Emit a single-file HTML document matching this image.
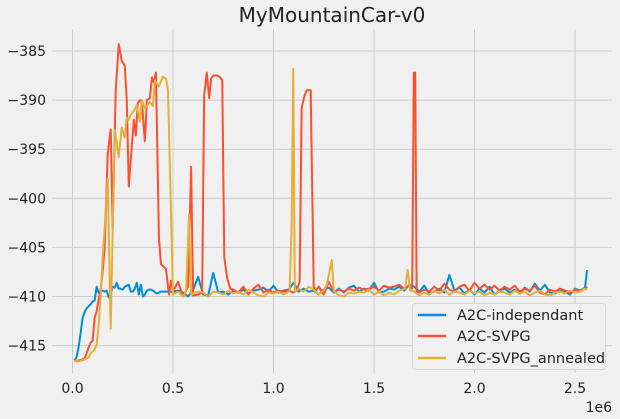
<!DOCTYPE html>
<html><head><meta charset="utf-8"><style>
html,body{margin:0;padding:0;background:#f0f0f0;}
svg{display:block;font-family:"DejaVu Sans","Liberation Sans",sans-serif;}
</style></head><body>
<svg id="chart" width="620" height="419" viewBox="0 0 620 419" xmlns="http://www.w3.org/2000/svg">
<rect width="620" height="419" fill="#f0f0f0"/>
<text x="332" y="22" text-anchor="middle" font-size="20" fill="#222">MyMountainCar-v0</text>
<g id="grid"></g>
<g id="ticks"></g>
<g id="series"></g>
<text x="612" y="412" text-anchor="end" font-size="14" fill="#222">1e6</text>
<g>
<rect x="412.5" y="303.5" width="193" height="66" rx="3" fill="#f0f0f0" stroke="#d6d6d6"/>
<line x1="418" y1="315" x2="446" y2="315" stroke="#008fd5" stroke-width="2.5"/>
<text x="457" y="320" font-size="14.5" fill="#222">A2C-independant</text>
<line x1="418" y1="336" x2="446" y2="336" stroke="#fc4f30" stroke-width="2.5"/>
<text x="457" y="341" font-size="14.5" fill="#222">A2C-SVPG</text>
<line x1="418" y1="358" x2="446" y2="358" stroke="#e5ae38" stroke-width="2.5"/>
<text x="457" y="363" font-size="14.5" fill="#222">A2C-SVPG_annealed</text>
</g>
</svg>
<script>
const xTicks=[0,0.5,1.0,1.5,2.0,2.5];
const xTickLabels=["0.0","0.5","1.0","1.5","2.0","2.5"];
const yTicks=[-385,-390,-395,-400,-405,-410,-415];
const yTickLabels=["\u2212385","\u2212390","\u2212395","\u2212400","\u2212405","\u2212410","\u2212415"];

const blueEarlyX=[0.01,0.02,0.03,0.04,0.05,0.06,0.07,0.08,0.09,0.10,0.11,0.12,0.13,0.14,0.15,0.16,0.17,0.18,0.19,0.20,0.21,0.22,0.23,0.24,0.25,0.26,0.27,0.28,0.29,0.30,0.31,0.32,0.33,0.34,0.35,0.36,0.37,0.38,0.39,0.40,0.42,0.44,2.56];
const blueEarlyY=[-416.5,-416.2,-415.2,-413.8,-412.2,-411.6,-411.2,-411,-410.8,-410.5,-410.4,-409.0,-409.6,-409.5,-409.4,-409.5,-409.4,-410.1,-409.8,-409.0,-409.1,-408.6,-409.2,-409.2,-409.3,-409.0,-408.9,-408.8,-409.5,-409.5,-409.2,-408.6,-409.8,-408.8,-410,-409.8,-409.4,-409.3,-409.3,-409.4,-409.7,-409.5,-407.3];
const blueGridY=[-409.5,-409.4,-409.6,-410.0,-409.3,-408.0,-409.8,-409.9,-407.6,-409.6,-409.5,-409.8,-409.4,-409.6,-409.3,-409.7,-409.4,-409.3,-409.1,-409.5,-408.9,-409.6,-409.4,-409.3,-408.6,-409.5,-409.2,-409.5,-409.4,-409.8,-409.3,-409.1,-409.6,-409.2,-409.6,-409.1,-408.9,-409.5,-409.2,-409.4,-408.6,-409.6,-409.5,-409.2,-409.3,-409.0,-409.4,-408.8,-409.0,-409.5,-408.9,-409.7,-409.5,-409.2,-409.6,-407.8,-409.4,-409.1,-409.7,-409.3,-409.8,-409.2,-409.6,-409.0,-409.8,-409.4,-409.2,-409.6,-409.3,-409.7,-409.1,-409.5,-408.7,-409.4,-408.8,-409.6,-409.7,-409.3,-409.5,-409.8,-409.2,-409.4,-409.1,-409.5,-409.2];

const redEventX=[0.01,0.02,0.03,0.04,0.05,0.06,0.07,0.08,0.09,0.10,0.11,0.12,0.13,0.14,0.15,0.16,0.175,0.19,0.20,0.215,0.23,0.245,0.26,0.27,0.28,0.29,0.305,0.315,0.325,0.335,0.345,0.36,0.37,0.385,0.395,0.405,0.415,0.43,0.44,0.455,0.465,0.48,0.49,
0.59,0.645,0.655,0.668,0.68,0.69,0.70,0.72,0.735,0.745,0.755,0.77,0.785,1.115,1.13,1.14,1.155,1.165,1.185,1.2,1.21,1.69,1.698,1.705,1.712,2.56];
const redEventY=[-416.5,-416.6,-416.5,-416.5,-416.4,-416.3,-415.8,-415.2,-414.7,-414.5,-412.2,-411.5,-410.3,-409.3,-407.5,-405,-395.5,-393,-403,-389,-384.3,-386,-386.5,-390,-398.8,-396,-392,-393.6,-390.3,-390,-390.2,-394.2,-390,-389.8,-387.7,-388.2,-387.2,-404,-406.7,-407,-407.2,-409.8,-408.4,
-396.8,-409.6,-389.5,-387.2,-389.8,-387.8,-387.5,-387.5,-387.7,-388,-406,-408.2,-409.2,-409.4,-408.5,-390.8,-389.5,-389,-389,-409,-409.4,-409.2,-387.2,-387.2,-409.5,-409.0];
const redGridY=[-409.5,-408.5,-410.0,-409.0,-409.9,-409.8,null,null,null,null,null,null,-409.3,-409.6,-409.0,-409.8,-409.2,-408.8,-409.6,-409.3,-409.6,-409.4,-409.5,-409.4,-409.6,null,null,null,null,-409.0,-409.8,-408.5,-409.5,-409.3,-409.5,-409.2,-409.4,-409.1,-409.3,-409.2,-409.0,-409.4,-408.9,-409.1,-409.0,-408.8,-409.2,-408.9,null,-409.6,-409.3,-409.5,-409.0,-409.4,-408.7,-409.3,-409.5,-409.0,-408.8,-409.4,-408.6,-409.2,-408.8,-409.3,-408.9,-409.4,-409.0,-409.3,-408.9,-409.5,-409.2,-409.4,-408.9,-409.6,-409.8,-409.3,-409.5,-409.2,-409.4,-409.6,-409.3,-409.4,-409.2];

const yelEventX=[0.01,0.03,0.05,0.07,0.08,0.09,0.10,0.11,0.12,0.13,0.14,0.15,0.16,0.175,0.19,0.21,0.23,0.245,0.26,0.27,0.28,0.29,0.305,0.32,0.335,0.345,0.36,0.37,0.385,0.40,0.41,0.43,0.45,0.465,0.475,0.50,
0.565,0.58,0.59,1.08,1.09,1.098,1.106,1.265,1.29,1.30,1.655,1.667,1.68,2.56];
const yelEventY=[-416.6,-416.6,-416.5,-416.3,-416.2,-415.8,-415.6,-415.4,-414.9,-413,-410,-406,-403,-398,-413.3,-393,-395.8,-392.8,-393.8,-391.8,-392,-391.5,-391.1,-390.5,-392.2,-390,-390.8,-390.6,-390.2,-390.6,-388,-388.6,-387.6,-387.8,-389,-409.8,
-409.5,-401.7,-409.8,-409.3,-403,-386.8,-409.5,-408.8,-406.3,-409.4,-409.2,-407.3,-409.4,-409.3];
const yelGridY=[null,-409.5,-410.0,null,-409.7,-409.5,-409.6,-410.0,-409.5,-409.6,-409.8,-409.4,-409.7,-409.5,-409.8,-409.3,-409.6,-409.9,-410.0,-409.6,-409.7,-409.5,-409.8,-409.5,null,-409.2,-409.5,-409.0,-409.3,-409.8,-409.4,null,null,-409.9,-410.0,-409.6,-409.7,-409.5,-409.6,-409.3,-409.8,-409.5,-409.9,-409.6,-409.8,-409.4,null,null,-409.5,-409.9,-409.6,-409.8,-409.4,-409.7,-409.3,-409.8,-409.5,-409.6,-409.8,-409.4,-409.7,-409.5,-409.9,-409.6,-409.8,-409.5,-409.6,-409.8,-409.4,-409.7,-409.5,-409.9,-409.6,-409.4,-409.8,-409.9,-409.6,-409.5,-409.7,-409.4,-409.6,-409.5,-409.2];

const gridStart=0.5, gridStep=0.025, gridEnd=2.55;
const NS="http://www.w3.org/2000/svg";
const X0=52,X1=612,Y0=29,Y1=373;
const xMin=-0.102,xMax=2.684,yMin=-417.79,yMax=-382.76;
function sx(v){return X0+(v-xMin)/(xMax-xMin)*(X1-X0);}
function sy(v){return Y1-(v-yMin)/(yMax-yMin)*(Y1-Y0);}
function mk(tag,attrs,parent){const e=document.createElementNS(NS,tag);for(const k in attrs)e.setAttribute(k,attrs[k]);parent.appendChild(e);return e;}
const grid=document.getElementById('grid'),ticks=document.getElementById('ticks'),series=document.getElementById('series');
xTicks.forEach((t,i)=>{
  const l=mk('line',{x1:sx(t),x2:sx(t),y1:Y0,y2:Y1,stroke:'#cbcbcb','stroke-width':1},grid);
  
  
  const tx=mk('text',{x:sx(t),y:393,'text-anchor':'middle','font-size':14,fill:'#222'},ticks);
  tx.textContent=xTickLabels[i];
  
  
});
yTicks.forEach((t,i)=>{
  const l=mk('line',{x1:X0,x2:X1,y1:sy(t),y2:sy(t),stroke:'#cbcbcb','stroke-width':1},grid);
  
  
  const tx=mk('text',{x:46,y:sy(t)+5,'text-anchor':'end','font-size':14,fill:'#222'},ticks);
  tx.textContent=yTickLabels[i];
  
  
});
function build(ex,ey,gy){
  const pts=[];
  ex.forEach((x,i)=>pts.push([x,ey[i]]));
  gy.forEach((y,i)=>{const x=gridStart+i*gridStep;if(y!==null&&x<=gridEnd+1e-9)pts.push([x,y]);});
  pts.sort((a,b)=>a[0]-b[0]);
  return pts;
}
function draw(pts,color,name){
  const d=pts.map((p,i)=>(i?'L':'M')+sx(p[0]).toFixed(2)+' '+sy(p[1]).toFixed(2)).join(' ');
  const p=mk('path',{d:d,fill:'none',stroke:color,'stroke-width':2,'stroke-linejoin':'round'},series);
  
  
}
draw(build(blueEarlyX,blueEarlyY,blueGridY),'#008fd5','line-a2c-independant');
draw(build(redEventX,redEventY,redGridY),'#fc4f30','line-a2c-svpg');
draw(build(yelEventX,yelEventY,yelGridY),'#e5ae38','line-a2c-svpg-annealed');
</script>
</body></html>
